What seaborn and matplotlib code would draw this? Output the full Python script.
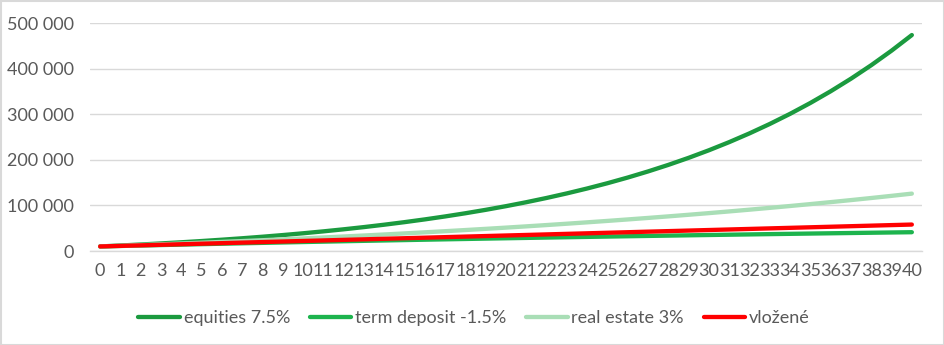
import matplotlib
matplotlib.use("Agg")
import matplotlib.pyplot as plt
import seaborn as sns
import pandas as pd
from matplotlib.ticker import FuncFormatter, MultipleLocator

years = list(range(41))
equities = [10000, 12040, 14233, 16591, 19125, 21849, 24778, 27926, 31310, 34948,
            38859, 43063, 47583, 52442, 57665, 63280, 69316, 75805, 82780, 90279,
            98340, 107006, 116321, 126335, 137100, 148673, 161113, 174486, 188862, 204317,
            220931, 238791, 257990, 278629, 300816, 324667, 350307, 377870, 407500, 439353,
            473594]
term_deposit = [10000, 11032, 12049, 13050, 14036, 15008, 15965, 16907, 17835, 18749,
                19650, 20537, 21411, 22272, 23120, 23955, 24778, 25588, 26386, 27172,
                27946, 28709, 29460, 30200, 30929, 31647, 32354, 33051, 33737, 34413,
                35079, 35735, 36381, 37017, 37644, 38261, 38869, 39468, 40058, 40639,
                41211]
real_estate = [10000, 11536, 13118, 14748, 16426, 18155, 19936, 21770, 23659, 25605,
               27609, 29673, 31799, 33989, 36245, 38568, 40961, 43426, 45965, 48580,
               51273, 54047, 56904, 59847, 62878, 66000, 69216, 72528, 75940, 79454,
               83074, 86802, 90642, 94597, 98671, 102867, 107189, 111641, 116226, 120949,
               125813]
vlozene = [10000, 11200, 12400, 13600, 14800, 16000, 17200, 18400, 19600, 20800,
           22000, 23200, 24400, 25600, 26800, 28000, 29200, 30400, 31600, 32800,
           34000, 35200, 36400, 37600, 38800, 40000, 41200, 42400, 43600, 44800,
           46000, 47200, 48400, 49600, 50800, 52000, 53200, 54400, 55600, 56800,
           58000]

series_names = ["equities 7.5%", "term deposit -1.5%", "real estate 3%", "vložené"]
series_values = [equities, term_deposit, real_estate, vlozene]
colors = ["#1B9A3F", "#1DB44E", "#A9DEB6", "#FF0000"]

rows = []
for name, vals in zip(series_names, series_values):
    for y, v in zip(years, vals):
        rows.append({"year": y, "value": v, "series": name})
df = pd.DataFrame(rows)

sns.set_style("white")
plt.rcParams["font.family"] = ["Lato", "DejaVu Sans"]
text_color = "#595959"
fs = 13

fig = plt.figure(figsize=(9.45, 3.45), dpi=100)
ax = fig.add_axes([90/945, 94/345, 832/945, 228/345])

sns.lineplot(data=df, x="year", y="value", hue="series", hue_order=series_names,
             palette=dict(zip(series_names, colors)), linewidth=3.1, ax=ax,
             legend=False, solid_capstyle="round")

ax.set_xlim(-0.5, 40.5)
ax.set_ylim(0, 500000)
ax.yaxis.set_major_locator(MultipleLocator(100000))
ax.yaxis.set_major_formatter(FuncFormatter(lambda v, p: f"{int(v):,}".replace(",", " ")))
ax.set_xticks(years)
ax.set_xticklabels([str(y) for y in years])
ax.grid(axis="y", color="#D9D9D9", linewidth=1.0)
ax.set_axisbelow(True)
for s in ["top", "right", "left"]:
    ax.spines[s].set_visible(False)
ax.spines["bottom"].set_color("#D9D9D9")
ax.spines["bottom"].set_linewidth(1.0)
ax.tick_params(axis="both", length=0, labelsize=fs, colors=text_color)
ax.tick_params(axis="y", pad=11.5)
ax.tick_params(axis="x", pad=9)
ax.set_xlabel("")
ax.set_ylabel("")

handles = [plt.Line2D([0], [0], color=c, linewidth=3.1, solid_capstyle="round") for c in colors]
leg = fig.legend(handles, series_names, loc="center", bbox_to_anchor=(474/945, 1 - 318/345),
                 ncol=4, frameon=False, fontsize=fs, handlelength=2.3, handletextpad=0.2,
                 columnspacing=1.1)
for t in leg.get_texts():
    t.set_color(text_color)

fig.patches.append(plt.Rectangle((0.5/945, 0.5/345), 1 - 1/945, 1 - 1/345,
                                 transform=fig.transFigure, fill=False,
                                 edgecolor="#D9D9D9", linewidth=1.5))

fig.savefig("out.png", dpi=100, facecolor="white")
